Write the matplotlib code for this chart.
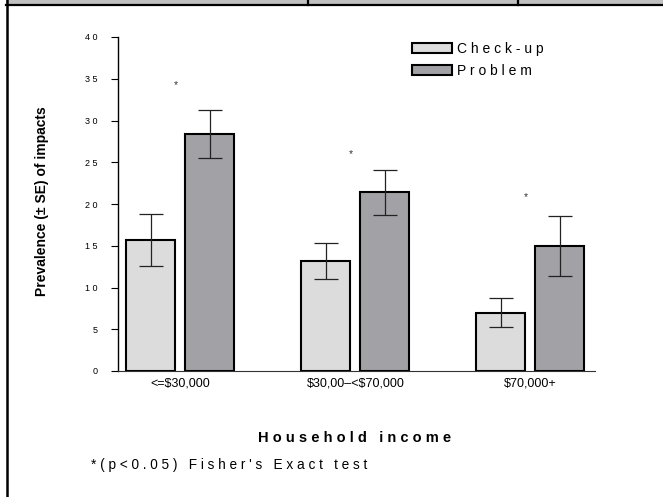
import matplotlib.pyplot as plt
import numpy as np
from matplotlib.patches import Rectangle
from matplotlib.lines import Line2D

plt.rcParams['font.family'] = ['Liberation Sans', 'DejaVu Sans']
plt.rcParams['text.parse_math'] = False

# income groups and prevalence of impacts (%)
groups = ['<=$30,000', '$30,00–<$70,000', '$70,000+']
checkup = [15.7, 13.2, 7.0]
checkup_se = [3.1, 2.15, 1.7]
problem = [28.4, 21.4, 15.0]
problem_se = [2.9, 2.7, 3.6]
star_y = [34.3, 26.0, 20.8]
yticks = [0, 5, 10, 15, 20, 25, 30, 35, 40]


def spaced(s):
    return ' '.join(s)


W, H = 663, 497
fig = plt.figure(figsize=(W / 100, H / 100), dpi=100)
ax = fig.add_axes([118 / W, 126 / H, 477 / W, 334 / H])

x = np.arange(len(groups))
bw = 0.28
off = 0.1685
err_kw = dict(ecolor='#222222', elinewidth=0.9, capsize=8.8, capthick=0.9)
ax.bar(x - off, checkup, bw, color='#dcdcdc', edgecolor='black', linewidth=1.5,
       yerr=checkup_se, error_kw=err_kw, label=spaced('Check-up'), zorder=2)
ax.bar(x + off, problem, bw, color='#a2a1a6', edgecolor='black', linewidth=1.5,
       yerr=problem_se, error_kw=err_kw, label=spaced('Problem'), zorder=2)

# significance markers
for xi, yi in zip(x, star_y):
    ax.text(xi - 0.025, yi, '*', ha='center', va='center', fontsize=7.5, color='#333333')

ax.set_xlim(-0.357, 2.369)
ax.set_ylim(0, 40)
ax.set_yticks(yticks)
ax.set_yticklabels([spaced(str(v)) for v in yticks], fontsize=6.5)
ax.tick_params(axis='y', direction='out', length=5, width=0.8, pad=9.5, colors='black')
ax.set_xticks(x)
ax.set_xticklabels(groups, fontsize=9)
ax.tick_params(axis='x', length=0, pad=5)

for side in ['top', 'right']:
    ax.spines[side].set_visible(False)
ax.spines['left'].set_linewidth(1.0)
ax.spines['bottom'].set_linewidth(0.8)
ax.spines['bottom'].set_color('#333333')

ax.set_ylabel('Prevalence (± SE) of impacts', fontsize=10, fontweight='bold')
ax.yaxis.set_label_coords(-0.145, 0.51)

leg = ax.legend(loc='upper left', bbox_to_anchor=(0.604, 1.002), frameon=False,
                fontsize=10, handlelength=2.9, handleheight=0.75, handletextpad=0.4,
                labelspacing=0.58, borderaxespad=0)

fig.text(355 / W, 1 - 438 / H, spaced('Household income'), ha='center', va='center',
         fontsize=10.5, fontweight='bold')
fig.text(91 / W, 1 - 465 / H, spaced("*(p<0.05) Fisher's Exact test"),
         ha='left', va='center', fontsize=9.8)

# frame pieces at the top and left edge
fig.add_artist(Rectangle((6 / W, 1 - 4.5 / H), 1, 4.5 / H, transform=fig.transFigure,
                         facecolor='#c0c0c0', edgecolor='none'))
fig.add_artist(Line2D([6 / W, 1], [1 - 5.2 / H] * 2, transform=fig.transFigure,
                      color='black', linewidth=1.6))
for px in [308, 518]:
    fig.add_artist(Line2D([px / W] * 2, [1 - 5 / H, 1], transform=fig.transFigure,
                          color='black', linewidth=1.6))
fig.add_artist(Line2D([6.5 / W] * 2, [0, 1], transform=fig.transFigure,
                      color='black', linewidth=1.8))

fig.savefig('out.png', dpi=100)
